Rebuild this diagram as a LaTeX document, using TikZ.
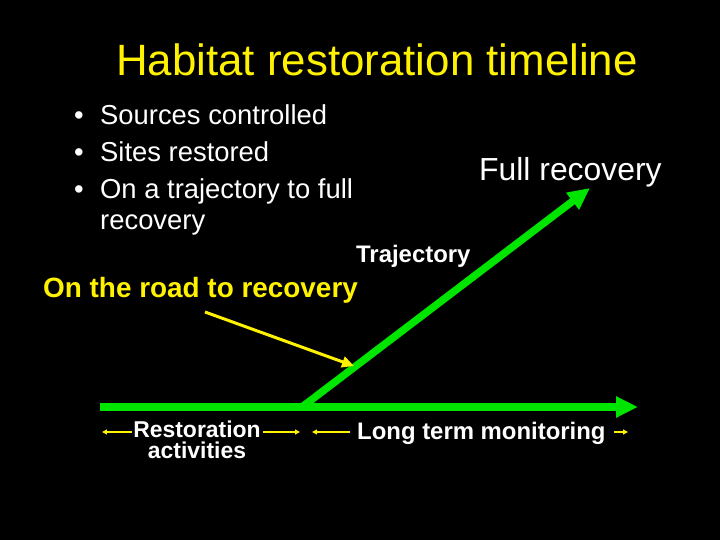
\documentclass[tikz,border=0pt]{standalone}
\usepackage{fontspec}
\setmainfont{Liberation Sans}
\usepackage{tikz}
\usetikzlibrary{arrows.meta,positioning,calc}

\tikzset{
    bigarrow/.style={draw=green!90!black, line width=7.5pt, -{Triangle[length=22pt,width=20pt]}},
    tagarrow/.style={draw=yellow, line width=1.4pt, -{Triangle[length=5pt,width=5pt]}},
    whitetext/.style={text=white, inner sep=0pt, anchor=west},
}

\begin{document}
\begin{tikzpicture}[x=1bp,y=-1bp]
    \fill[black] (0,0) rectangle (720,540);
    \useasboundingbox (0,0) rectangle (720,540);

    % Title
    \node[text=yellow, font=\fontsize{44}{48}\selectfont] (title) at (377,60) {Habitat restoration timeline};

    % Bullets
    \node[whitetext, font=\fontsize{27.5}{31}\selectfont, align=left, anchor=north west] (bullets) at (74,104)
        {\makebox[26bp][l]{\textbullet}Sources controlled\\[6.5bp]
         \makebox[26bp][l]{\textbullet}Sites restored\\[6.5bp]
         \makebox[26bp][l]{\textbullet}On a trajectory to full\\
         \hspace{26bp}recovery};

    % Labels
    \node[whitetext, font=\fontsize{32}{36}\selectfont] (full) at (479,172) {Full recovery};
    \node[whitetext, font=\bfseries\fontsize{24}{28}\selectfont] (traj) at (356,256) {Trajectory};
    \node[whitetext, text=yellow, font=\bfseries\fontsize{28}{32}\selectfont] (road) at (43,290) {On the road to recovery};

    % Green arrows
    \coordinate (origin) at (100,407);
    \coordinate (elbow) at (302,407);
    \coordinate (peak) at (590,188);
    \coordinate (future) at (638,407);
    \draw[bigarrow] (origin) -- (future);
    \draw[bigarrow] (elbow) -- (peak);

    % Yellow pointer
    \coordinate (roadtail) at (205,312);
    \coordinate (roadtip) at (354,366);
    \draw[draw=yellow, line width=3pt, -{Triangle[length=12pt,width=11pt]}] (roadtail) -- (roadtip);

    % Phases
    \node[text=white, font=\bfseries\fontsize{23}{21}\selectfont, align=center, inner sep=0pt] (restore) at (197,440) {Restoration\\activities};
    \node[whitetext, font=\bfseries\fontsize{24}{28}\selectfont] (monitor) at (357,433) {Long term monitoring};
    \coordinate (restleft) at (102,432);
    \coordinate (restright) at (300,432);
    \coordinate (monleft) at (312,432);
    \coordinate (monright) at (628,432);
    \draw[tagarrow] ($(restore.west |- restleft)+(-1,0)$) -- (restleft);
    \draw[tagarrow] ($(restore.east |- restright)+(2,0)$) -- (restright);
    \draw[tagarrow] ($(monitor.west |- monleft)+(-7,0)$) -- (monleft);
    \draw[tagarrow] ($(monitor.east |- monright)+(8,0)$) -- (monright);
\end{tikzpicture}
\end{document}
